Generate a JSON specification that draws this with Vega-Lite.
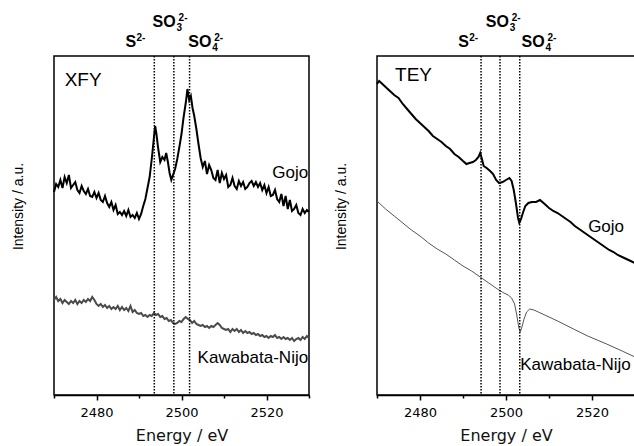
{
  "$schema": "https://vega.github.io/schema/vega-lite/v6.json",
  "background": "white",
  "padding": {"left": 10, "top": 12, "right": 0, "bottom": 0},
  "bounds": "flush",
  "spacing": 68,
  "config": {
    "view": {"stroke": "black", "strokeWidth": 1.5},
    "axis": {"grid": false},
    "axisX": {
      "values": [2480, 2490, 2500, 2510, 2520],
      "format": "d",
      "labelExpr": "datum.value % 20 === 0 ? datum.label : ''",
      "labelFont": "DejaVu Sans", "labelFontSize": 13, "labelColor": "black", "labelPadding": 6,
      "tickColor": "black", "tickWidth": 1.5,
      "tickSize": {"condition": {"test": "datum.value % 20 === 0", "value": 5}, "value": 3},
      "domainColor": "black", "domainWidth": 1.5,
      "titleFont": "DejaVu Sans", "titleFontSize": 16, "titleFontWeight": "normal", "titleColor": "#111111", "titlePadding": 8
    },
    "axisY": {
      "labels": false, "ticks": false, "domain": false,
      "titleFont": "Liberation Sans", "titleFontSize": 14, "titleFontWeight": "normal", "titleColor": "black", "titlePadding": 29, "titleY": 150
    },
    "text": {"font": "Liberation Sans", "color": "black"}
  },
  "hconcat": [
    {
      "width": 255, "height": 339,
      "encoding": {
        "x": {"field": "E", "type": "quantitative", "scale": {"domain": [2470, 2530], "nice": false, "zero": false}, "axis": {"title": "Energy / eV"}},
        "y": {"field": "v", "type": "quantitative", "scale": {"domain": [0, 339], "nice": false, "zero": false}, "axis": {"title": "Intensity / a.u."}}
      },
      "layer": [
        {
          "data": {"values": [
            {"E":2470,"v":95},{"E":2470.5,"v":98},{"E":2471,"v":94},{"E":2471.5,"v":96},{"E":2472,"v":92},{"E":2472.5,"v":95},{"E":2473,"v":93},{"E":2473.5,"v":91},{"E":2474,"v":94},{"E":2474.5,"v":92},{"E":2475,"v":95},{"E":2475.5,"v":91},{"E":2476,"v":94},{"E":2476.5,"v":92},{"E":2477,"v":95},{"E":2477.5,"v":93},{"E":2478,"v":96},{"E":2478.5,"v":94},{"E":2479,"v":98},{"E":2479.5,"v":95},
            {"E":2480,"v":91},{"E":2480.5,"v":89},{"E":2481,"v":91},{"E":2481.5,"v":88},{"E":2482,"v":90},{"E":2482.5,"v":87},{"E":2483,"v":89},{"E":2483.5,"v":86},{"E":2484,"v":88},{"E":2484.5,"v":86},{"E":2485,"v":89},{"E":2485.5,"v":85},{"E":2486,"v":88},{"E":2486.5,"v":85},{"E":2487,"v":87},{"E":2487.5,"v":84},{"E":2488,"v":89},{"E":2488.5,"v":83},{"E":2489,"v":85},{"E":2489.5,"v":82},
            {"E":2490,"v":81},{"E":2490.5,"v":82},{"E":2491,"v":79},{"E":2491.5,"v":80},{"E":2492,"v":78},{"E":2492.5,"v":80},{"E":2493,"v":79},{"E":2493.5,"v":82},{"E":2494,"v":80},{"E":2494.5,"v":81},{"E":2495,"v":78},{"E":2495.5,"v":79},{"E":2496,"v":76},{"E":2496.5,"v":77},{"E":2497,"v":74},{"E":2497.5,"v":75},{"E":2498,"v":72},{"E":2498.5,"v":71},{"E":2499,"v":72},{"E":2499.5,"v":74},
            {"E":2500,"v":73},{"E":2500.5,"v":76},{"E":2501,"v":78},{"E":2501.5,"v":76},{"E":2502,"v":75},{"E":2502.5,"v":72},{"E":2503,"v":74},{"E":2503.5,"v":71},{"E":2504,"v":70},{"E":2504.5,"v":69},{"E":2505,"v":70},{"E":2505.5,"v":68},{"E":2506,"v":69},{"E":2506.5,"v":67},{"E":2507,"v":69},{"E":2507.5,"v":68},{"E":2508,"v":70},{"E":2508.5,"v":72},{"E":2509,"v":70},{"E":2509.5,"v":67},
            {"E":2510,"v":66},{"E":2510.5,"v":65},{"E":2511,"v":66},{"E":2511.5,"v":63},{"E":2512,"v":66},{"E":2512.5,"v":64},{"E":2513,"v":66},{"E":2513.5,"v":63},{"E":2514,"v":65},{"E":2514.5,"v":62},{"E":2515,"v":64},{"E":2515.5,"v":62},{"E":2516,"v":63},{"E":2516.5,"v":61},{"E":2517,"v":62},{"E":2517.5,"v":60},{"E":2518,"v":61},{"E":2518.5,"v":59},{"E":2519,"v":60},{"E":2519.5,"v":58},
            {"E":2520,"v":59},{"E":2520.5,"v":57},{"E":2521,"v":59},{"E":2521.5,"v":58},{"E":2522,"v":60},{"E":2522.5,"v":57},{"E":2523,"v":58},{"E":2523.5,"v":56},{"E":2524,"v":58},{"E":2524.5,"v":56},{"E":2525,"v":57},{"E":2525.5,"v":55},{"E":2526,"v":57},{"E":2526.5,"v":54},{"E":2527,"v":56},{"E":2527.5,"v":57},{"E":2528,"v":55},{"E":2528.5,"v":58},{"E":2529,"v":56},{"E":2529.5,"v":59},{"E":2530,"v":57}
          ]},
          "mark": {"type": "line", "stroke": "#4a4a4a", "strokeWidth": 2}
        },
        {
          "data": {"values": [
            {"E":2470,"v":203},{"E":2470.5,"v":211},{"E":2471,"v":208},{"E":2471.5,"v":215},{"E":2472,"v":207},{"E":2472.5,"v":218},{"E":2473,"v":212},{"E":2473.5,"v":220},{"E":2474,"v":207},{"E":2474.5,"v":210},{"E":2475,"v":213},{"E":2475.5,"v":205},{"E":2476,"v":202},{"E":2476.5,"v":209},{"E":2477,"v":204},{"E":2477.5,"v":201},{"E":2478,"v":206},{"E":2478.5,"v":199},{"E":2479,"v":198},{"E":2479.5,"v":203},
            {"E":2480,"v":197},{"E":2480.5,"v":202},{"E":2481,"v":195},{"E":2481.5,"v":193},{"E":2482,"v":199},{"E":2482.5,"v":192},{"E":2483,"v":188},{"E":2483.5,"v":193},{"E":2484,"v":185},{"E":2484.5,"v":190},{"E":2485,"v":181},{"E":2485.5,"v":183},{"E":2486,"v":180},{"E":2486.5,"v":184},{"E":2487,"v":179},{"E":2487.5,"v":185},{"E":2488,"v":178},{"E":2488.5,"v":180},{"E":2489,"v":177},{"E":2489.5,"v":182},
            {"E":2490,"v":176},{"E":2490.5,"v":181},{"E":2491,"v":189},{"E":2491.5,"v":196},{"E":2492,"v":207},{"E":2492.5,"v":218},{"E":2493,"v":236},{"E":2493.5,"v":257},{"E":2493.8,"v":269},{"E":2494.1,"v":261},{"E":2494.5,"v":247},{"E":2495,"v":233},{"E":2495.5,"v":238},{"E":2496,"v":235},{"E":2496.4,"v":242},{"E":2496.8,"v":233},{"E":2497.2,"v":222},{"E":2497.6,"v":215},{"E":2498,"v":220},{"E":2498.5,"v":226},{"E":2499,"v":236},{"E":2499.5,"v":248},
            {"E":2500,"v":261},{"E":2500.5,"v":278},{"E":2501,"v":292},{"E":2501.4,"v":306},{"E":2501.8,"v":295},{"E":2502.2,"v":299},{"E":2502.6,"v":287},{"E":2503,"v":279},{"E":2503.5,"v":266},{"E":2504,"v":251},{"E":2504.5,"v":237},{"E":2505,"v":228},{"E":2505.5,"v":234},{"E":2506,"v":221},{"E":2506.5,"v":230},{"E":2507,"v":225},{"E":2507.5,"v":217},{"E":2508,"v":215},{"E":2508.5,"v":225},{"E":2509,"v":212},{"E":2509.5,"v":222},
            {"E":2510,"v":216},{"E":2510.5,"v":220},{"E":2511,"v":208},{"E":2511.5,"v":210},{"E":2512,"v":217},{"E":2512.5,"v":209},{"E":2513,"v":206},{"E":2513.5,"v":214},{"E":2514,"v":209},{"E":2514.5,"v":213},{"E":2515,"v":206},{"E":2515.5,"v":208},{"E":2516,"v":212},{"E":2516.5,"v":214},{"E":2517,"v":209},{"E":2517.5,"v":213},{"E":2518,"v":208},{"E":2518.5,"v":212},{"E":2519,"v":205},{"E":2519.5,"v":210},
            {"E":2520,"v":202},{"E":2520.5,"v":208},{"E":2521,"v":199},{"E":2521.5,"v":200},{"E":2522,"v":205},{"E":2522.5,"v":196},{"E":2523,"v":193},{"E":2523.5,"v":201},{"E":2524,"v":189},{"E":2524.5,"v":199},{"E":2525,"v":186},{"E":2525.5,"v":195},{"E":2526,"v":184},{"E":2526.5,"v":186},{"E":2527,"v":190},{"E":2527.5,"v":182},{"E":2528,"v":180},{"E":2528.5,"v":186},{"E":2529,"v":182},{"E":2529.5,"v":185},{"E":2530,"v":183}
          ]},
          "mark": {"type": "line", "stroke": "black", "strokeWidth": 2}
        },
        {
          "data": {"values": [{"E": 2493.6}, {"E": 2498.2}, {"E": 2501.9}]},
          "mark": {"type": "rule", "stroke": "black", "strokeWidth": 1.5, "strokeDash": [1.5, 1.5]},
          "encoding": {"x": {"field": "E", "type": "quantitative"}, "y": null}
        },
        {
          "data": {"values": [{"E": 2529.8, "v": 217, "t": "Gojo"}, {"E": 2529.8, "v": 32, "t": "Kawabata-Nijo"}]},
          "mark": {"type": "text", "align": "right", "baseline": "alphabetic", "fontSize": 17},
          "encoding": {"text": {"field": "t"}}
        },
        {
          "data": {"values": [{"E": 2472.5, "v": 309, "t": "XFY"}]},
          "mark": {"type": "text", "align": "left", "baseline": "alphabetic", "fontSize": 19},
          "encoding": {"text": {"field": "t"}}
        },
        {
          "data": {"values": [{"E": 2486.8, "v": 348, "t": "S"}, {"E": 2493.2, "v": 368, "t": "SO"}, {"E": 2501.6, "v": 348, "t": "SO"}]},
          "mark": {"type": "text", "align": "left", "baseline": "alphabetic", "fontSize": 16, "fontWeight": "bold"},
          "encoding": {"text": {"field": "t"}}
        },
        {
          "data": {"values": [{"E": 2493.2, "v": 368, "t": "3"}, {"E": 2501.6, "v": 348, "t": "4"}]},
          "mark": {"type": "text", "align": "left", "baseline": "alphabetic", "fontSize": 10, "fontWeight": "bold", "dx": 24, "dy": 4},
          "encoding": {"text": {"field": "t"}}
        },
        {
          "data": {"values": [{"E": 2493.2, "v": 368, "t": "2-"}, {"E": 2501.6, "v": 348, "t": "2-"}]},
          "mark": {"type": "text", "align": "left", "baseline": "alphabetic", "fontSize": 10, "fontWeight": "bold", "dx": 26, "dy": -6},
          "encoding": {"text": {"field": "t"}}
        },
        {
          "data": {"values": [{"E": 2486.8, "v": 348, "t": "2-"}]},
          "mark": {"type": "text", "align": "left", "baseline": "alphabetic", "fontSize": 10, "fontWeight": "bold", "dx": 11, "dy": -6},
          "encoding": {"text": {"field": "t"}}
        }
      ]
    },
    {
      "width": 258, "height": 339,
      "encoding": {
        "x": {"field": "E", "type": "quantitative", "scale": {"domain": [2470, 2530], "nice": false, "zero": false}, "axis": {"title": "Energy / eV"}},
        "y": {"field": "v", "type": "quantitative", "scale": {"domain": [0, 339], "nice": false, "zero": false}, "axis": {"title": "Intensity / a.u."}}
      },
      "layer": [
        {
          "data": {"values": [
            {"E":2470,"v":194},{"E":2472,"v":186},{"E":2474,"v":179},{"E":2476,"v":172},{"E":2478,"v":165},{"E":2480,"v":159},{"E":2482,"v":152},{"E":2484,"v":146},{"E":2486,"v":141},{"E":2488,"v":135},{"E":2490,"v":129},{"E":2492,"v":124},{"E":2494,"v":118},{"E":2496,"v":112},{"E":2498,"v":106},{"E":2499.5,"v":102},{"E":2500.5,"v":100},{"E":2501.3,"v":97},{"E":2502,"v":91},{"E":2502.5,"v":80},{"E":2503,"v":67},{"E":2503.3,"v":63},{"E":2503.7,"v":68},{"E":2504.2,"v":76},{"E":2504.8,"v":83},{"E":2505.5,"v":86},{"E":2506.5,"v":85},{"E":2507.5,"v":83},{"E":2509.5,"v":79},{"E":2512,"v":74},{"E":2515.7,"v":66},{"E":2519,"v":59},{"E":2523.4,"v":51},{"E":2527,"v":44},{"E":2530,"v":38}
          ]},
          "mark": {"type": "line", "stroke": "#555555", "strokeWidth": 1}
        },
        {
          "data": {"values": [
            {"E":2470,"v":311},{"E":2470.5,"v":314},{"E":2471,"v":312},{"E":2472,"v":308},{"E":2473,"v":304},{"E":2474,"v":300},{"E":2475,"v":297},{"E":2476,"v":291},{"E":2477,"v":286},{"E":2478,"v":281},{"E":2479,"v":276},{"E":2480,"v":272},{"E":2481,"v":268},{"E":2482,"v":264},{"E":2483,"v":259},{"E":2484,"v":256},{"E":2485,"v":253},{"E":2486,"v":249},{"E":2487,"v":246},{"E":2488,"v":241},{"E":2489,"v":238},{"E":2490,"v":234},{"E":2490.8,"v":231},{"E":2491.5,"v":232},{"E":2492.3,"v":233},{"E":2493,"v":235},{"E":2493.6,"v":238},{"E":2494,"v":242},{"E":2494.4,"v":236},{"E":2494.8,"v":229},{"E":2495.5,"v":227},{"E":2496.3,"v":224},{"E":2497,"v":221},{"E":2497.7,"v":215},{"E":2498.4,"v":212},{"E":2499.2,"v":213},{"E":2500,"v":215},{"E":2500.8,"v":217},{"E":2501.3,"v":214},{"E":2501.8,"v":205},{"E":2502.3,"v":192},{"E":2502.8,"v":177},{"E":2503.1,"v":172},{"E":2503.5,"v":176},{"E":2504,"v":183},{"E":2504.5,"v":189},{"E":2505.2,"v":192},{"E":2506,"v":193},{"E":2507,"v":193},{"E":2507.9,"v":195},{"E":2509,"v":191},{"E":2510,"v":187},{"E":2511,"v":184},{"E":2512,"v":182},{"E":2513,"v":179},{"E":2514,"v":176},{"E":2515,"v":173},{"E":2516,"v":169},{"E":2517,"v":166},{"E":2518,"v":163},{"E":2519,"v":160},{"E":2520,"v":157},{"E":2521,"v":154},{"E":2522,"v":151},{"E":2523,"v":148},{"E":2524,"v":145},{"E":2525,"v":143},{"E":2526,"v":140},{"E":2527,"v":138},{"E":2528,"v":136},{"E":2529,"v":134},{"E":2530,"v":132}
          ]},
          "mark": {"type": "line", "stroke": "black", "strokeWidth": 2}
        },
        {
          "data": {"values": [{"E": 2494.2}, {"E": 2498.6}, {"E": 2503.2}]},
          "mark": {"type": "rule", "stroke": "black", "strokeWidth": 1.5, "strokeDash": [1.5, 1.5]},
          "encoding": {"x": {"field": "E", "type": "quantitative"}, "y": null}
        },
        {
          "data": {"values": [{"E": 2519.1, "v": 163, "t": "Gojo"}, {"E": 2503.3, "v": 25, "t": "Kawabata-Nijo"}]},
          "mark": {"type": "text", "align": "left", "baseline": "alphabetic", "fontSize": 17},
          "encoding": {"text": {"field": "t"}}
        },
        {
          "data": {"values": [{"E": 2474.2, "v": 314, "t": "TEY"}]},
          "mark": {"type": "text", "align": "left", "baseline": "alphabetic", "fontSize": 19},
          "encoding": {"text": {"field": "t"}}
        },
        {
          "data": {"values": [{"E": 2488.9, "v": 348, "t": "S"}, {"E": 2495.3, "v": 368, "t": "SO"}, {"E": 2503.6, "v": 348, "t": "SO"}]},
          "mark": {"type": "text", "align": "left", "baseline": "alphabetic", "fontSize": 16, "fontWeight": "bold"},
          "encoding": {"text": {"field": "t"}}
        },
        {
          "data": {"values": [{"E": 2495.3, "v": 368, "t": "3"}, {"E": 2503.6, "v": 348, "t": "4"}]},
          "mark": {"type": "text", "align": "left", "baseline": "alphabetic", "fontSize": 10, "fontWeight": "bold", "dx": 24, "dy": 4},
          "encoding": {"text": {"field": "t"}}
        },
        {
          "data": {"values": [{"E": 2495.3, "v": 368, "t": "2-"}, {"E": 2503.6, "v": 348, "t": "2-"}]},
          "mark": {"type": "text", "align": "left", "baseline": "alphabetic", "fontSize": 10, "fontWeight": "bold", "dx": 26, "dy": -6},
          "encoding": {"text": {"field": "t"}}
        },
        {
          "data": {"values": [{"E": 2488.9, "v": 348, "t": "2-"}]},
          "mark": {"type": "text", "align": "left", "baseline": "alphabetic", "fontSize": 10, "fontWeight": "bold", "dx": 11, "dy": -6},
          "encoding": {"text": {"field": "t"}}
        }
      ]
    }
  ]
}
